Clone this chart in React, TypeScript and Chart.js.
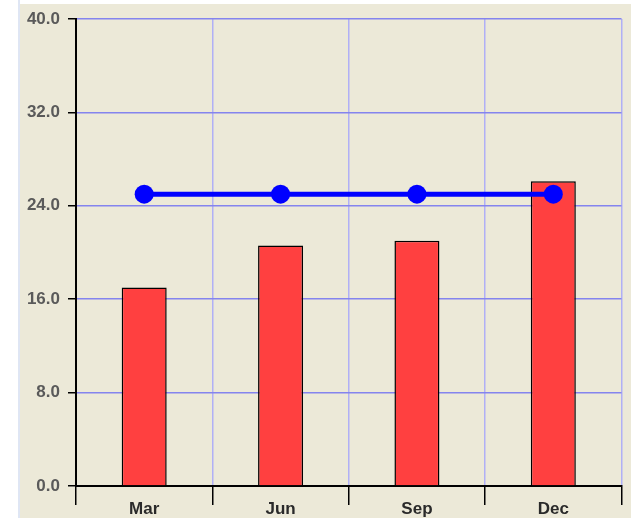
import React, { useEffect, useRef } from "react";
import { Chart, registerables } from "chart.js";

Chart.register(...registerables);

const categories = ["Mar", "Jun", "Sep", "Dec"];
const barValues = [17.0, 20.6, 21.0, 26.1];
const lineValues = [25.0, 25.0, 25.0, 25.0];
const yMin = 0;
const yMax = 40;
const yStep = 8;

const bgPlugin = {
  id: "bgPlugin",
  beforeDraw(chart: any) {
    const ctx = chart.ctx;
    ctx.save();
    ctx.fillStyle = "#ffffff";
    ctx.fillRect(0, 0, chart.width, chart.height);
    ctx.fillStyle = "#ECE9D8";
    ctx.fillRect(20, 4, chart.width - 20, chart.height - 4);
    ctx.fillStyle = "#dfe6f4";
    ctx.fillRect(18, 0, 2, chart.height);
    ctx.restore();
  },
};

export default function App() {
  const ref = useRef<HTMLCanvasElement | null>(null);
  useEffect(() => {
    if (!ref.current) return;
    const chart = new Chart(ref.current, {
      type: "bar",
      data: {
        labels: categories,
        datasets: [
          {
            type: "line",
            data: lineValues,
            borderColor: "#0000FF",
            backgroundColor: "#0000FF",
            borderWidth: 5,
            pointRadius: 9.5,
            pointBackgroundColor: "#0000FF",
            pointBorderWidth: 0,
            order: 0,
          } as any,
          {
            type: "bar",
            data: barValues,
            backgroundColor: "#FF4040",
            borderColor: "#000000",
            borderWidth: 1.5,
            barPercentage: 0.33,
            categoryPercentage: 1,
            order: 1,
          } as any,
        ],
      },
      options: {
        responsive: false,
        animation: false,
        layout: { padding: { top: 19, right: 6, left: 0, bottom: 0 } },
        plugins: { legend: { display: false }, tooltip: { enabled: false } },
        scales: {
          x: {
            offset: true,
            grid: {
              offset: true,
              color: "#B0B0F6",
              lineWidth: 1.5,
              tickColor: "#000000",
              tickLength: 19,
            },
            border: { color: "#000000", width: 2 },
            ticks: {
              padding: -6,
              color: "#2a2a2a",
              font: { family: "Liberation Sans", size: 17, weight: "bold" },
            },
            afterFit(scale: any) {
              scale.height = 32;
            },
          },
          y: {
            min: yMin,
            max: yMax,
            grid: {
              color: "#8484EE",
              lineWidth: 1.5,
              tickColor: "#000000",
              tickLength: 8,
            },
            border: { color: "#000000", width: 2 },
            ticks: {
              stepSize: yStep,
              padding: 8,
              color: "#5a5a5a",
              font: { family: "Liberation Sans", size: 17, weight: "bold" },
              callback: (v: any) => Number(v).toFixed(1),
            },
            afterFit(scale: any) {
              scale.width = 76;
            },
          },
        },
      },
      plugins: [bgPlugin],
    });
    return () => chart.destroy();
  }, []);
  return (
    <div style={{ position: "absolute", left: 0, top: 0, width: 631, height: 518 }}>
      <canvas ref={ref} width={631} height={518} style={{ display: "block" }} />
    </div>
  );
}
